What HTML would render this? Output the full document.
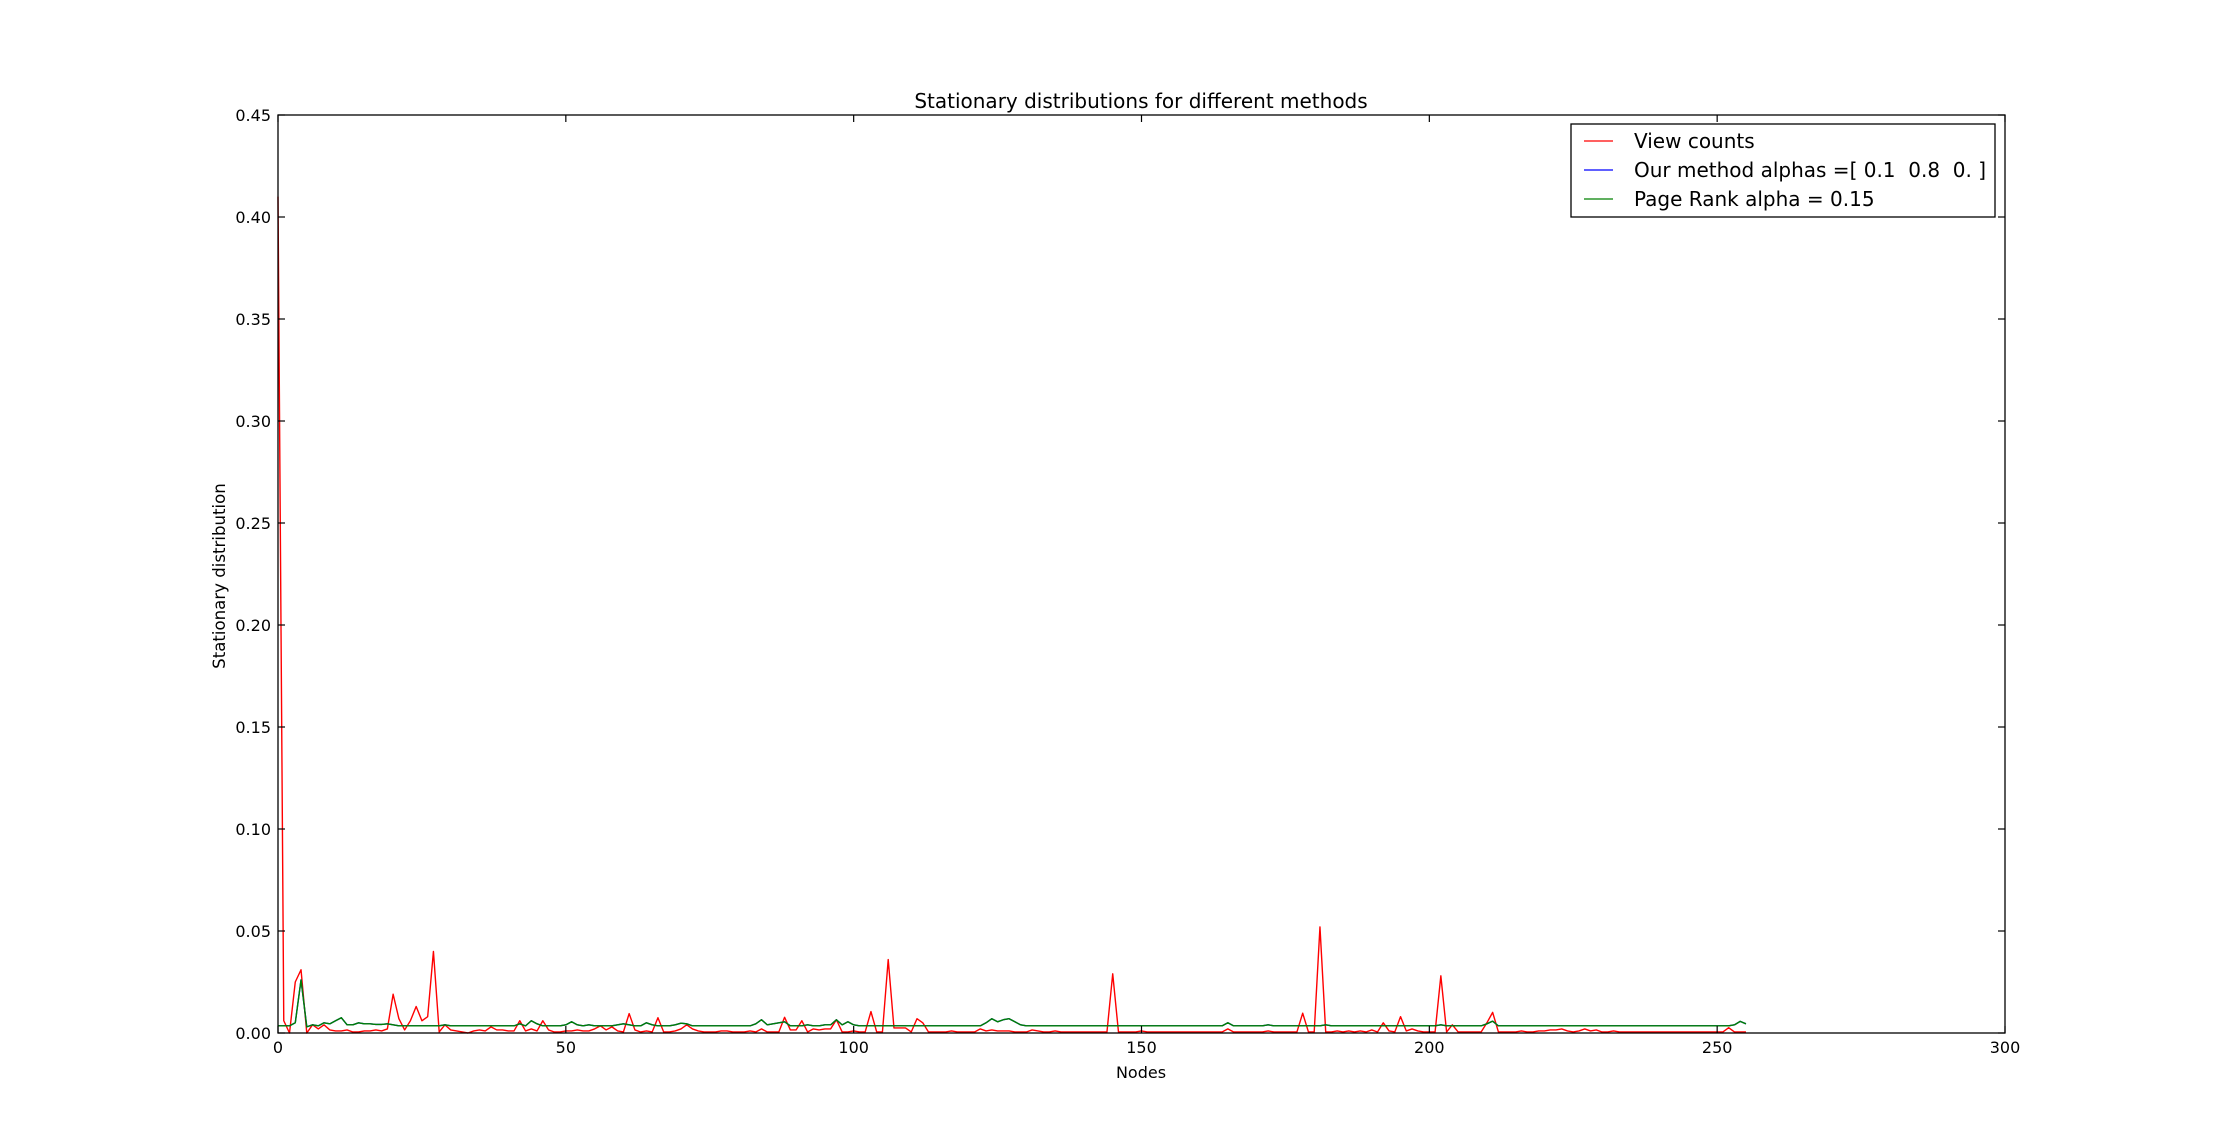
<!DOCTYPE html>
<html><head><meta charset="utf-8"><style>
html,body{margin:0;padding:0;background:#fff;}
svg{display:block;font-family:"DejaVu Sans","Liberation Sans",sans-serif;}
</style></head><body>
<svg id="chart" width="2227" height="1148" viewBox="0 0 2227 1148" xmlns="http://www.w3.org/2000/svg">
<rect width="2227" height="1148" fill="#fff"/>
<text x="1141" y="108" font-size="20" text-anchor="middle">Stationary distributions for different methods</text>
<g id="series"></g>
<g id="axes"></g>
<text x="1141" y="1078" font-size="16" text-anchor="middle">Nodes</text>
<text x="0" y="0" font-size="16.6" text-anchor="middle" transform="translate(225,576) rotate(-90)">Stationary distribution</text>
<g>
<rect x="1571" y="124" width="424" height="93" fill="#fff" stroke="#000" stroke-width="1.3"/>
<line x1="1584" y1="141" x2="1613" y2="141" stroke="#ff0000" stroke-width="1.3"/>
<text x="1634" y="148" font-size="20">View counts</text>
<line x1="1584" y1="170" x2="1613" y2="170" stroke="#0000ff" stroke-width="1.3"/>
<text x="1634" y="177" font-size="20" xml:space="preserve">Our method alphas =[ 0.1  0.8  0. ]</text>
<line x1="1584" y1="199" x2="1613" y2="199" stroke="#008000" stroke-width="1.3"/>
<text x="1634" y="206" font-size="20">Page Rank alpha = 0.15</text>
</g>
</svg>
<script>
const xTicks = [0, 50, 100, 150, 200, 250, 300];
const yTicks = [0, 0.05, 0.10, 0.15, 0.20, 0.25, 0.30, 0.35, 0.40, 0.45];
const yTickLabels = ["0.00","0.05","0.10","0.15","0.20","0.25","0.30","0.35","0.40","0.45"];
const viewCounts = [
.41,.006,0,.025,.031,0,.004,.002,.004,.0015,.001,.001,.0015,.0005,.0005,.001,.001,.0015,.001,.002,
.019,.007,.0015,.006,.013,.006,.008,.04,.0005,.004,.0015,.001,.0005,0,.001,.0015,.001,.003,.0015,.0015,
.001,.001,.006,.001,.002,.001,.006,.0015,.0005,.0005,.001,.001,.0015,.001,.001,.002,.0035,.0015,.003,.001,
.0005,.0095,.0015,.0005,.001,.0005,.0075,.0005,.0005,.001,.002,.004,.002,.001,.0005,.0005,.0005,.001,.001,.0005,
.0005,.0005,.001,.0005,.002,.0005,.0005,.0005,.0077,.0015,.0015,.006,.0005,.002,.0015,.002,.002,.0065,.0005,.0005,
.001,.0005,.0005,.0105,.0005,.0005,.036,.0025,.0025,.0025,.0005,.007,.005,.0005,.0005,.0005,.0005,.001,.0005,.0005,
.0005,.0005,.002,.001,.0015,.001,.001,.001,.0005,.0005,.0005,.0015,.001,.0005,.0005,.001,.0005,.0005,.0005,.0005,
.0005,.0005,.0005,.0005,.0005,.029,.0005,.0005,.0005,.0005,.001,.0005,.0005,.0005,.0005,.0005,.0005,.0005,.0005,.0005,
.0005,.0005,.0005,.0005,.0005,.002,.0005,.0005,.0005,.0005,.0005,.0005,.001,.0005,.0005,.0005,.0005,.0005,.0097,.0005,
.0005,.052,.0005,.0005,.001,.0005,.001,.0005,.001,.0005,.0015,.0005,.005,.001,.0005,.008,.001,.002,.001,.0005,
.0005,.0005,.028,.0005,.004,.0005,.0005,.0005,.0005,.0005,.005,.0101,.0005,.0005,.0005,.0005,.001,.0005,.0005,.001,
.001,.0015,.0015,.002,.001,.0005,.001,.002,.001,.0015,.0005,.0005,.001,.0005,.0005,.0005,.0005,.0005,.0005,.0005,
.0005,.0005,.0005,.0005,.0005,.0005,.0005,.0005,.0005,.0005,.0005,.0005,.0026,.0005,.0005,.0005];
const pageRank = [
.0035,.0035,.0035,.005,.026,.003,.004,.0035,.005,.0045,.006,.0075,.004,.004,.005,.0045,.0045,.0042,.0042,.0045,
.004,.0035,.0035,.0035,.0035,.0035,.0035,.0035,.0035,.004,.0035,.0035,.0035,.0035,.0035,.0035,.0035,.0035,.0035,.0035,
.0035,.0035,.0045,.0035,.006,.0045,.0035,.0035,.0035,.0035,.004,.0055,.004,.0035,.004,.0035,.0035,.0035,.0035,.004,
.0045,.004,.0035,.0035,.005,.004,.0035,.0035,.0035,.004,.0048,.0045,.0035,.0035,.0035,.0035,.0035,.0035,.0035,.0035,
.0035,.0035,.0035,.0045,.0065,.004,.0045,.005,.0055,.0035,.0035,.0035,.004,.0035,.0035,.004,.004,.0065,.004,.0055,
.004,.0035,.0035,.0035,.0035,.0035,.0035,.0035,.0035,.0035,.0035,.0035,.0035,.0035,.0035,.0035,.0035,.0035,.0035,.0035,
.0035,.0035,.0035,.005,.007,.0055,.0065,.007,.0055,.004,.0035,.0035,.0035,.0035,.0035,.0035,.0035,.0035,.0035,.0035,
.0035,.0035,.0035,.0035,.0035,.0035,.0035,.0035,.0035,.0035,.0035,.0035,.0035,.0035,.0035,.0035,.0035,.0035,.0035,.0035,
.0035,.0035,.0035,.0035,.0035,.005,.0035,.0035,.0035,.0035,.0035,.0035,.004,.0035,.0035,.0035,.0035,.0035,.0035,.0035,
.0035,.0035,.004,.0035,.0035,.0035,.0035,.0035,.0035,.0035,.0035,.0035,.0035,.0035,.0035,.0035,.0035,.0035,.0035,.0035,
.0035,.0035,.004,.0035,.0035,.0035,.0035,.0035,.0035,.0035,.0045,.0058,.0035,.0035,.0035,.0035,.0035,.0035,.0035,.0035,
.0035,.0035,.0035,.0035,.0035,.0035,.0035,.0035,.0035,.0035,.0035,.0035,.0035,.0035,.0035,.0035,.0035,.0035,.0035,.0035,
.0035,.0035,.0035,.0035,.0035,.0035,.0035,.0035,.0035,.0035,.0035,.0035,.0035,.004,.0057,.0045];
const ourMethod = pageRank.slice();

const L = 278, R = 2005, T = 115, B = 1033;
const xMin = 0, xMax = 300, yMin = 0, yMax = 0.45;
function xs(v){ return L + (v - xMin) / (xMax - xMin) * (R - L); }
function ys(v){ return B - (v - yMin) / (yMax - yMin) * (B - T); }
const NS = "http://www.w3.org/2000/svg";
const series = document.getElementById('series');
const axes = document.getElementById('axes');

function drawLine(vals, color, name){
  const p = document.createElementNS(NS, 'polyline');
  
  
  p.setAttribute('points', vals.map((v,i)=>xs(i).toFixed(2)+','+ys(v).toFixed(2)).join(' '));
  p.setAttribute('fill', 'none');
  p.setAttribute('stroke', color);
  p.setAttribute('stroke-width', '1.4');
  p.setAttribute('stroke-linejoin', 'round');
  series.appendChild(p);
}
drawLine(viewCounts, '#ff0000', 'view-counts-line');
drawLine(ourMethod, '#0000ff', 'our-method-line');
drawLine(pageRank, '#008000', 'page-rank-line');

const frame = document.createElementNS(NS, 'rect');


frame.setAttribute('x', L); frame.setAttribute('y', T);
frame.setAttribute('width', R - L); frame.setAttribute('height', B - T);
frame.setAttribute('fill', 'none'); frame.setAttribute('stroke', '#000'); frame.setAttribute('stroke-width', '1.3');
axes.appendChild(frame);

function tick(x1,y1,x2,y2,name){
  const l = document.createElementNS(NS, 'line');
  
  
  l.setAttribute('x1', x1); l.setAttribute('y1', y1); l.setAttribute('x2', x2); l.setAttribute('y2', y2);
  l.setAttribute('stroke', '#000'); l.setAttribute('stroke-width', '1.2');
  axes.appendChild(l);
}
function label(x,y,txt,anchor,name){
  const t = document.createElementNS(NS, 'text');
  
  
  t.setAttribute('x', x); t.setAttribute('y', y);
  t.setAttribute('font-size', '16');
  t.setAttribute('text-anchor', anchor);
  t.textContent = txt;
  axes.appendChild(t);
}
xTicks.forEach(v=>{
  const x = xs(v);
  tick(x, B, x, B-7, 'x-tick');
  tick(x, T, x, T+7, 'x-tick-top');
  label(x, B+20, String(v), 'middle', 'x-tick-label');
});
yTicks.forEach((v,i)=>{
  const y = ys(v);
  tick(L, y, L+7, y, 'y-tick');
  tick(R, y, R-7, y, 'y-tick-right');
  label(L-7, y+6, yTickLabels[i], 'end', 'y-tick-label');
});
</script>
</body></html>
